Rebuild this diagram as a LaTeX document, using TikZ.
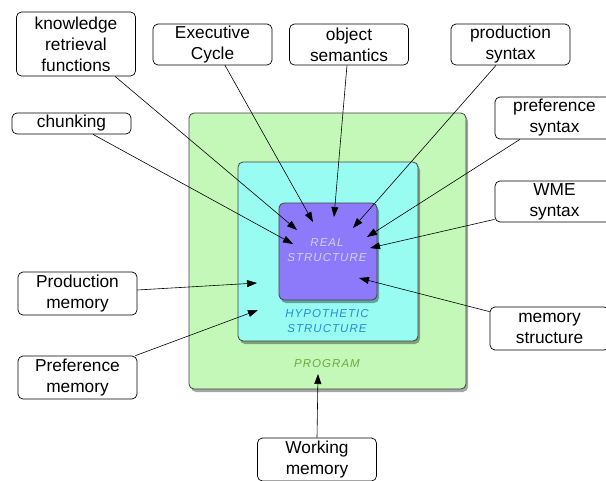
\documentclass[tikz,border=0pt]{standalone}
\usepackage{fontspec}
\setmainfont{Liberation Sans}
\newfontfamily\tagfont[LetterSpace=9]{Liberation Sans}
\usetikzlibrary{shadows,arrows.meta}
\definecolor{progfill}{HTML}{C4F8B8}
\definecolor{hypfill}{HTML}{98FCF2}
\definecolor{realfill}{HTML}{8C7AFA}
\definecolor{progtext}{HTML}{6BAA3A}
\definecolor{hyptext}{HTML}{2A8AD8}
\definecolor{realtext}{HTML}{D4CCF8}
\begin{document}
\begin{tikzpicture}[x=1pt,y=-1pt,
  lbl/.style={draw=black, fill=white, rounded corners=5pt, line width=0.7pt, align=center,
    font=\fontsize{17.3}{21}\selectfont, inner sep=0pt, minimum width=119pt, minimum height=42pt},
  area/.style={draw=black!75, rounded corners=5pt, line width=0.8pt,
    drop shadow={shadow xshift=2pt, shadow yshift=-3pt, opacity=0.35, fill=black}},
  conn/.style={-{Triangle[length=10pt,width=7pt]}, line width=0.6pt},
  tag/.style={font=\tagfont\itshape\fontsize{11.5}{15}\selectfont, align=center, inner sep=0pt}]
\useasboundingbox (0,0) rectangle (606,480);
\clip (0,0) rectangle (606,480);
% nested areas
\node[area, fill=progfill, minimum width=277pt, minimum height=276pt] (prog) at (327.5,251) {};
\node[area, fill=hypfill, minimum width=180pt, minimum height=179pt] (hyp) at (328,251.5) {};
\node[area, fill=realfill, minimum width=98pt, minimum height=97pt] (real) at (328,251.5) {};
\node[tag, text=realtext] (realtag) at (327,250.5) {REAL\\STRUCTURE};
\node[tag, text=hyptext] (hyptag) at (327,321) {HYPOTHETIC\\STRUCTURE};
\node[tag, text=progtext] (progtag) at (327,363.5) {PROGRAM};
% label boxes
\node[lbl, minimum height=64pt] (know) at (76,44) {knowledge\\retrieval\\functions};
\node[lbl, minimum height=41pt] (exec) at (212.5,44.5) {Executive\\Cycle};
\node[lbl, minimum height=41pt] (obj) at (349,44.5) {object\\semantics};
\node[lbl, minimum height=41pt] (prodsyn) at (510.5,44.5) {production\\syntax};
\node[lbl, minimum height=21pt] (chunk) at (71.5,123.5) {chunking};
\node[lbl] (prefsyn) at (554.5,118) {preference\\syntax};
\node[lbl, minimum height=41pt] (wme) at (554.5,201.5) {WME\\syntax};
\node[lbl, minimum height=43pt] (prodmem) at (77.5,293.5) {Production\\memory};
\node[lbl, minimum height=43pt] (prefmem) at (77.5,377.5) {Preference\\memory};
\node[lbl, minimum height=43pt] (memstruct) at (549.5,328.5) {memory\\structure};
\node[lbl, minimum height=43pt] (working) at (317,459.5) {Working\\memory};
% arrow tips
\coordinate (tknow) at (297,230);
\coordinate (texec) at (313,222);
\coordinate (tobj) at (334,217);
\coordinate (tprodsyn) at (353,228);
\coordinate (tchunk) at (293,244);
\coordinate (tprefsyn) at (367,237);
\coordinate (twme) at (370,248);
\coordinate (tmem) at (359,278);
\coordinate (tprodmem) at (257,283);
\coordinate (tprefmem) at (258,310);
\coordinate (twork) at (318,374);
% connectors
\draw[conn] ([xshift=39pt]know.south) -- (tknow);
\draw[conn] ([xshift=12.5pt]exec.south) -- (texec);
\draw[conn] ([xshift=-2pt]obj.south) -- (tobj);
\draw[conn] ([xshift=-14.5pt]prodsyn.south) -- (tprodsyn);
\draw[conn] ([xshift=21.5pt]chunk.south) -- (tchunk);
\draw[conn] ([xshift=-34.5pt]prefsyn.south) -- (tprefsyn);
\draw[conn] ([yshift=3pt]wme.south west) -- (twme);
\draw[conn] ([yshift=-5pt]memstruct.north west) -- (tmem);
\draw[conn] ([yshift=3.5pt]prodmem.east) -- (tprodmem);
\draw[conn] ([xshift=-2pt]prefmem.north east) -- (tprefmem);
\draw[conn] (working.north) -- (twork);
\end{tikzpicture}
\end{document}
